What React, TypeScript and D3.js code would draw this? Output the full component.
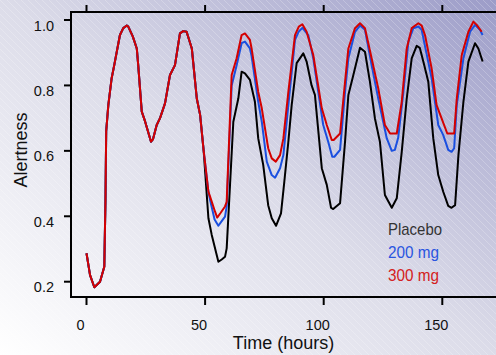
import React from "react";
import * as d3 from "d3";

// Shared curve (all three groups identical until ~50 h)
const commonHours = [0, 1.5, 3.3, 5.7, 7.5, 8.0, 8.3, 9.2, 10.6, 11.7, 14.1, 15.5, 17, 17.6, 19.5, 21.2, 21.8, 23.3, 24.7, 27.2, 28, 29.6, 31, 33.1, 35.2, 37.3, 39.4, 40.8, 42.2, 44.4, 46.5, 47.9, 49.4];
const commonValues = [0.287, 0.22, 0.183, 0.2, 0.246, 0.45, 0.66, 0.74, 0.822, 0.862, 0.954, 0.975, 0.983, 0.98, 0.95, 0.913, 0.862, 0.72, 0.69, 0.628, 0.635, 0.679, 0.7, 0.745, 0.832, 0.862, 0.959, 0.966, 0.964, 0.913, 0.76, 0.71, 0.6];

const placeboHours = [51.4, 52.8, 55.6, 57, 58.4, 59.1, 61.9, 64, 65.4, 66.8, 68.9, 71, 72.4, 74.5, 76.6, 78.1, 79.9, 82, 83.4, 85.1, 86.5, 88.6, 91.4, 92.8, 94.9, 96.3, 99.2, 101.3, 103.1, 104, 106.9, 109, 110.4, 112.5, 115.3, 117.4, 119.5, 121.6, 123.7, 125.8, 128.7, 130.8, 132.9, 135, 137.1, 139.2, 140.5, 142, 144.1, 146.2, 148.3, 150.4, 152.5, 153.9, 155.4, 156.8, 158.9, 161, 163.8, 165.2, 167];
const placeboValues = [0.394, 0.343, 0.261, 0.268, 0.276, 0.302, 0.689, 0.76, 0.842, 0.837, 0.817, 0.75, 0.638, 0.557, 0.434, 0.394, 0.371, 0.409, 0.506, 0.628, 0.74, 0.868, 0.898, 0.873, 0.8, 0.771, 0.547, 0.496, 0.426, 0.422, 0.44, 0.628, 0.771, 0.832, 0.915, 0.903, 0.811, 0.699, 0.628, 0.465, 0.426, 0.455, 0.597, 0.76, 0.883, 0.921, 0.915, 0.873, 0.811, 0.638, 0.526, 0.475, 0.432, 0.426, 0.434, 0.587, 0.75, 0.873, 0.929, 0.913, 0.873];

const mg200Hours = [51.4, 52.1, 54, 55.6, 57, 58.4, 59.1, 61.2, 63.3, 65.4, 66.8, 68.9, 69.6, 72.4, 73.9, 76, 78.1, 79.5, 81.6, 83, 85.1, 87.9, 89.5, 91, 93.5, 95.6, 99.8, 101.9, 103.6, 104.5, 106.9, 109, 110.4, 113.2, 115.3, 117.4, 120.2, 123, 126.6, 128.7, 130, 131.4, 133.6, 135.7, 137.8, 139.9, 141.3, 142.7, 145.5, 148.3, 150.4, 152.5, 153.9, 155, 156.1, 158.9, 161.7, 163.8, 165.9, 167];
const mg200Values = [0.475, 0.45, 0.39, 0.371, 0.385, 0.399, 0.43, 0.8, 0.862, 0.929, 0.934, 0.913, 0.89, 0.75, 0.689, 0.567, 0.526, 0.518, 0.547, 0.587, 0.74, 0.939, 0.965, 0.976, 0.954, 0.883, 0.679, 0.628, 0.582, 0.582, 0.603, 0.78, 0.883, 0.964, 0.983, 0.97, 0.862, 0.76, 0.638, 0.6, 0.603, 0.64, 0.78, 0.934, 0.975, 0.98, 0.97, 0.92, 0.822, 0.679, 0.648, 0.603, 0.597, 0.608, 0.74, 0.883, 0.964, 0.985, 0.969, 0.954];

const mg300Hours = [51.4, 52.1, 54.2, 55.1, 56.5, 58.4, 59.1, 61.2, 63.3, 65.4, 66.8, 68.9, 69.6, 72.4, 73.9, 76.6, 78.1, 79.8, 81.6, 83, 85.1, 87.9, 89.5, 91, 92.8, 95.6, 99.2, 101.3, 103.4, 104.2, 106.9, 109, 110.4, 113.2, 115.3, 117.4, 120.2, 123, 125.8, 128, 130.8, 132.9, 135, 137.1, 139.9, 141.3, 142.7, 145.5, 147.6, 149.7, 152.1, 155, 156.1, 158.2, 161, 163.1, 164.5, 166.6];
const mg300Values = [0.475, 0.46, 0.414, 0.396, 0.41, 0.43, 0.444, 0.832, 0.883, 0.954, 0.959, 0.939, 0.913, 0.78, 0.73, 0.608, 0.577, 0.567, 0.587, 0.638, 0.78, 0.954, 0.98, 0.987, 0.964, 0.893, 0.73, 0.679, 0.633, 0.633, 0.653, 0.811, 0.913, 0.975, 0.99, 0.975, 0.883, 0.791, 0.679, 0.653, 0.653, 0.75, 0.913, 0.975, 0.99, 0.983, 0.954, 0.852, 0.74, 0.699, 0.653, 0.653, 0.76, 0.893, 0.964, 0.995, 0.985, 0.964];

const xTicks = [0, 50, 100, 150];
const yTicks = [0.2, 0.4, 0.6, 0.8, 1.0];
const legendLabels = ["Placebo", "200 mg", "300 mg"];
const legendWidths = [54, 51, 51];
const seriesColors = ["#000000", "#1a4fe0", "#d40000"];
const legendColors = ["#333333", "#2a55e0", "#d42020"];

type Pt = [number, number];
const zip = (h: number[], v: number[]): Pt[] => h.map((d, i) => [d, v[i]]);
const common = zip(commonHours, commonValues);
const series: Pt[][] = [
  common.concat(zip(placeboHours, placeboValues)),
  common.concat(zip(mg200Hours, mg200Values)),
  common.concat(zip(mg300Hours, mg300Values)),
];

export default function App() {
  const W = 496, H = 355;
  const left = 71, top = 12, bottom = 297;
  const x = d3.scaleLinear().domain([0, 150]).range([86.5, 442.3]);
  const y = d3.scaleLinear().domain([0.2, 1.0]).range([281.7, 20]);
  const line = d3.line<Pt>().x((d) => x(d[0])).y((d) => y(d[1]));
  const font = "'Liberation Sans', Arial, sans-serif";

  return (
    <svg width={W} height={H} style={{ position: "absolute", left: 0, top: 0 }} xmlns="http://www.w3.org/2000/svg">
      <defs>
        <linearGradient id="bg" x1="0" y1="1" x2="1" y2="0">
          <stop offset="0" stopColor="#ffffff" />
          <stop offset="0.5" stopColor="#dcdce9" />
          <stop offset="1" stopColor="#9c9cc8" />
        </linearGradient>
        <pattern id="stripes" patternUnits="userSpaceOnUse" width="7" height="7">
          <path d="M-1,6 L1,8 M-1,-1 L8,8 M6,-1 L8,1" stroke="#ffffff" strokeOpacity="0.22" strokeWidth="1" />
        </pattern>
      </defs>
      <rect x={0} y={0} width={W} height={H} fill="url(#bg)" />
      <rect x={0} y={0} width={W} height={H} fill="url(#stripes)" />

      {/* axes box */}
      <line x1={left} y1={top} x2={W} y2={top} stroke="#000" strokeWidth={2} />
      <line x1={left} y1={bottom} x2={W} y2={bottom} stroke="#000" strokeWidth={2} />
      <line x1={left} y1={top - 1} x2={left} y2={bottom + 1} stroke="#000" strokeWidth={2} />

      {yTicks.map((t) => (
        <g key={"y" + t}>
          <line x1={left - 7} x2={left} y1={y(t)} y2={y(t)} stroke="#000" strokeWidth={2} />
          <text x={54} y={y(t) + 10.5} textAnchor="end" fontFamily={font} fontSize={14.5} fill="#111">
            {t.toFixed(1)}
          </text>
        </g>
      ))}
      {xTicks.map((t) => (
        <g key={"x" + t}>
          <line x1={x(t)} x2={x(t)} y1={bottom} y2={bottom + 8} stroke="#000" strokeWidth={2} />
          <line x1={x(t)} x2={x(t)} y1={top} y2={top - 7} stroke="#000" strokeWidth={2} />
          <text x={x(t) - 6} y={330} textAnchor="middle" fontFamily={font} fontSize={14.5} fill="#111">
            {t}
          </text>
        </g>
      ))}

      <text x={283.5} y={349} textAnchor="middle" fontFamily={font} fontSize={18} fill="#111">
        Time (hours)
      </text>
      <text transform="translate(27,150) rotate(-90)" textAnchor="middle" fontFamily={font} fontSize={18} fill="#111">
        Alertness
      </text>

      {series.map((s, i) => (
        <path key={i} d={line(s) || ""} fill="none" stroke={seriesColors[i]} strokeWidth={2} strokeLinejoin="round" />
      ))}

      {legendLabels.map((l, i) => (
        <text key={l} x={388} y={235 + i * 23} fontFamily={font} fontSize={17} fill={legendColors[i]}
          textLength={legendWidths[i]} lengthAdjust="spacingAndGlyphs">
          {l}
        </text>
      ))}
    </svg>
  );
}
